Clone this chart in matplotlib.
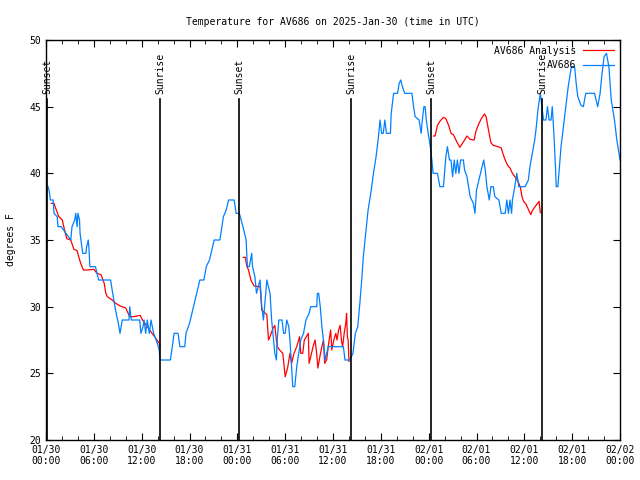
import numpy as np
import matplotlib.pyplot as plt
import matplotlib.dates as mdates
from datetime import datetime, timedelta

plt.rcParams['font.family'] = ['DejaVu Sans Mono']

start = datetime(2025, 1, 30)

# observed temperature (AV686): hours since 01/30 00:00 UTC, degrees F
obs_h = [0.25, 0.4, 0.55, 0.9, 1.0, 1.4, 1.5, 1.9, 3.1, 3.26, 3.6, 3.73, 3.9, 4.0, 4.2,
         4.27, 4.6, 5.0, 5.1, 5.3, 5.4, 5.5, 6.2, 6.4, 6.6, 8.1, 8.3, 8.5, 8.8, 9.07,
         9.28, 9.57, 10.4, 10.5, 10.7, 11.75, 11.9, 12.17, 12.3, 12.5, 12.7, 12.96, 13.17,
         13.5, 13.96, 14.2, 14.3,
         15.6, 15.9, 16.06, 16.56, 16.8, 17.4, 17.56, 18.0, 18.3, 18.6, 18.9, 19.3, 19.8,
         20.1, 20.5, 20.7, 21.1, 21.8, 22.0, 22.25, 22.6, 22.9, 23.6, 23.84, 24.25, 24.7,
         25.1, 25.26, 25.5, 25.8, 25.9, 26.2, 26.4, 26.85, 27.06, 27.27, 27.7, 28.1, 28.3,
         28.7, 28.9, 29.0, 29.2, 29.6, 29.8, 30.0, 30.2, 30.45, 30.6, 30.8, 30.95, 31.2,
         31.45, 31.7, 31.95, 32.3, 32.6, 33.0, 33.2, 33.96, 34.04, 34.2, 34.4, 34.6, 34.8,
         35.0, 35.2, 35.4, 37.3, 37.5, 38.1,
         38.5, 38.8, 39.1, 39.4, 39.6, 39.8, 40.1, 40.4, 40.8, 41.07, 41.4, 41.7, 41.9,
         42.1, 42.3, 42.5, 42.7, 43.2, 43.3, 43.6, 44.1, 44.3, 44.5, 44.7, 45.0, 45.9,
         46.1, 46.3, 46.8, 47.05, 47.2, 47.4, 47.55, 47.7, 48.0, 48.2, 48.4, 48.55, 49.1,
         49.4, 49.85,
         50.15, 50.35, 50.6, 50.8, 51.0, 51.2, 51.4, 51.6, 51.8, 52.0, 52.35, 52.5, 52.8,
         53.0, 53.2, 53.4, 53.6, 53.8, 54.0, 54.2, 54.6, 54.9, 55.1, 55.3, 55.6, 55.8,
         56.1, 56.3, 56.8, 57.1, 57.6, 57.8, 58.0, 58.2, 58.4, 58.5, 58.8, 59.05, 59.3,
         60.1, 60.5, 60.7, 61.0, 61.3, 61.5, 61.7, 62.0,
         62.2, 62.4, 62.7, 62.9, 63.1, 63.35, 63.5, 63.7, 63.9, 64.0, 64.2, 64.4, 64.6,
         64.9, 65.2, 65.5, 65.9, 66.3, 66.5, 66.7, 67.1, 67.4, 67.7, 68.8, 69.0, 69.2,
         69.5, 69.7, 70.0, 70.3, 70.6, 70.9, 71.3, 71.6, 72.0]
obs_t = [39.0, 38.7, 38.0, 38.0, 37.0, 36.75, 36.0, 36.0, 35.0, 36.0, 36.5, 37.0, 36.0,
         37.0, 36.5, 35.5, 34.0, 34.0, 34.5, 35.0, 34.25, 33.0, 33.0, 32.5, 32.0, 32.0,
         31.25, 30.5, 29.5, 28.75, 28.0, 29.0, 29.0, 30.0, 29.0, 29.0, 28.0, 28.5, 29.0,
         28.0, 29.0, 28.0, 29.0, 28.0, 27.25, 26.75, 26.0,
         26.0, 27.25, 28.0, 28.0, 27.0, 27.0, 28.0, 28.75, 29.5, 30.25, 31.0, 32.0, 32.0,
         33.0, 33.5, 34.0, 35.0, 35.0, 35.75, 36.75, 37.25, 38.0, 38.0, 37.0, 37.0, 36.0,
         35.0, 33.0, 33.0, 34.0, 33.0, 32.25, 31.0, 32.0, 30.0, 29.0, 32.0, 31.0, 29.0,
         26.5, 26.0, 27.5, 29.0, 29.0, 28.0, 28.0, 29.0, 28.5, 27.5, 25.5, 24.0, 24.0,
         25.5, 26.5, 27.5, 28.0, 29.0, 29.5, 30.0, 30.0, 31.0, 31.0, 30.0, 28.5, 27.5,
         26.0, 26.5, 27.0, 27.0, 26.0, 26.0,
         26.5, 28.0, 28.5, 30.5, 32.0, 33.75, 35.5, 37.25, 38.75, 40.0, 41.25, 42.75, 44.0,
         43.0, 43.0, 44.0, 43.0, 43.0, 44.5, 46.0, 46.0, 46.75, 47.0, 46.5, 46.0, 46.0,
         45.0, 44.25, 44.0, 43.0, 44.0, 45.0, 45.0, 44.0, 42.75, 42.0, 41.0, 40.0, 40.0,
         39.0, 39.0,
         41.25, 42.0, 41.0, 41.0, 39.75, 41.0, 40.0, 41.0, 40.0, 41.0, 41.0, 40.25, 39.75,
         39.0, 38.25, 38.0, 37.75, 37.0, 38.75, 39.25, 40.25, 41.0, 40.25, 39.0, 38.0, 39.0,
         39.0, 38.25, 38.0, 37.0, 37.0, 38.0, 37.0, 38.0, 37.0, 38.0, 39.0, 40.0, 39.0,
         39.0, 39.5, 40.5, 41.5, 42.5, 43.5, 44.75, 46.0,
         45.0, 44.0, 44.0, 45.0, 44.0, 44.0, 45.0, 43.0, 40.5, 39.0, 39.0, 40.5, 42.0,
         43.5, 45.0, 46.5, 48.0, 48.0, 46.75, 45.75, 45.1, 45.0, 46.0, 46.0, 45.5, 45.0,
         46.0, 47.25, 48.75, 49.0, 48.0, 45.5, 44.0, 42.5, 41.0]

# analysis temperature (AV686 Analysis), gaps as nan
ana_h = [0.67, 1.0, 1.2, 1.6, 2.05, 2.26, 2.6, 3.1, 3.5, 3.9, 4.1, 4.35, 4.7, 5.2, 6.0,
         6.4, 6.9, 7.3, 7.5, 7.7, 8.3, 8.75, 9.3, 10.0, 10.5, 11.0, 11.8, 12.1, 12.7,
         13.3, 13.8, 14.2, 14.3,
         np.nan,
         24.75, 25.0, 25.2, 25.4, 25.7, 26.1, 26.85, 26.95, 27.06, 27.5, 27.7, 27.9,
         28.1, 28.3, 28.5, 28.7, 28.8, 29.0, 29.3, 29.7, 30.0, 30.3, 30.6, 30.8, 31.1,
         31.45, 31.8, 31.95, 32.2, 32.4, 32.65, 32.9, 33.0, 33.3, 33.5, 33.75, 33.95,
         34.1, 34.35, 34.6, 34.8, 34.95, 35.2, 35.45, 35.7, 35.85, 36.1, 36.35, 36.5,
         36.7, 36.9, 37.05, 37.2, 37.4, 37.6, 37.7, 37.8, 37.9, 38.0,
         np.nan,
         48.6, 48.8, 49.1, 49.4, 49.85, 50.15, 50.5, 50.8, 51.1, 51.5, 51.9, 52.4, 52.8,
         53.2, 53.7, 53.9, 54.2, 54.6, 55.0, 55.2, 55.5, 55.8, 56.1, 56.7, 57.1, 57.35,
         57.6, 57.9, 58.2, 58.5, 58.8, 59.2, 59.5, 59.7, 59.9, 60.2, 60.5, 60.8, 61.0,
         61.4, 61.85, 62.0]
ana_t = [37.75, 37.75, 37.4, 36.75, 36.5, 35.9, 35.1, 35.0, 34.3, 34.2, 33.75, 33.25,
         32.75, 32.75, 32.8, 32.5, 32.4, 31.75, 31.0, 30.75, 30.5, 30.25, 30.05, 29.9,
         29.25, 29.25, 29.35, 29.0, 28.5, 28.0, 27.6, 27.25, 27.0,
         np.nan,
         33.7, 33.7, 33.0, 32.75, 32.0, 31.55, 31.5, 30.75, 29.75, 29.5, 29.4, 27.5,
         27.75, 28.1, 28.4, 28.6, 28.0, 27.0, 26.75, 26.5, 24.75, 25.4, 26.5, 25.75, 26.5,
         27.0, 27.75, 26.5, 26.5, 27.5, 27.75, 28.0, 25.75, 26.5, 27.0, 27.5, 26.5,
         25.4, 26.25, 27.0, 27.5, 25.75, 26.0, 27.25, 28.25, 26.75, 27.5, 28.0, 27.5,
         28.25, 28.6, 27.5, 27.0, 28.0, 28.75, 29.5, 27.75, 27.5, 25.9,
         np.nan,
         42.8, 42.8, 43.6, 43.9, 44.2, 44.1, 43.6, 43.0, 42.9, 42.4, 41.95, 42.4, 42.8,
         42.55, 42.5, 43.1, 43.6, 44.1, 44.45, 44.25, 43.25, 42.3, 42.1, 42.0, 41.9, 41.4,
         41.0, 40.6, 40.4, 40.0, 39.75, 39.4, 38.95, 38.25, 37.9, 37.7, 37.3, 36.9, 37.2,
         37.55, 37.9, 37.05]

sun_h = [0.12, 14.3, 24.2, 38.3, 48.3, 62.2]
sun_lbl = ['Sunset', 'Sunrise', 'Sunset', 'Sunrise', 'Sunset', 'Sunrise']


def hnum(h):
    # hours since start -> matplotlib date number
    if np.isnan(h):
        return np.nan
    return mdates.date2num(start + timedelta(hours=h))


fig = plt.figure(figsize=(6.4, 4.8), dpi=100)
ax = fig.add_axes([0.0719, 0.0833, 0.8969, 0.8334])

ana_x = [hnum(h) for h in ana_h]
obs_x = [hnum(h) for h in obs_h]

ax.plot(ana_x, ana_t, color='#ff0000', lw=0.9, label='AV686 Analysis')
ax.plot(obs_x, obs_t, color='#0080ff', lw=0.9, label='AV686')

for h, lbl in zip(sun_h, sun_lbl):
    xs = hnum(h)
    ax.plot([xs, xs], [20, 45.6], color='black', lw=1.2)
    ax.text(xs, 45.95, lbl, rotation=90, ha='center', va='bottom', fontsize=7)

ax.set_xlim(hnum(0), hnum(72))
ax.set_ylim(20, 50)
ax.xaxis.set_major_locator(mdates.HourLocator(byhour=[0, 6, 12, 18]))
ax.xaxis.set_minor_locator(mdates.HourLocator(interval=2))
ax.xaxis.set_major_formatter(mdates.DateFormatter('%m/%d\n%H:%M'))
ax.set_yticks(range(20, 51, 5))
ax.tick_params(which='both', direction='in', top=True, right=True, labelsize=7)
ax.tick_params(which='major', length=5)
ax.tick_params(which='minor', length=3)
for s in ax.spines.values():
    s.set_linewidth(1.0)

ax.set_ylabel('degrees F', fontsize=7)
ax.yaxis.set_label_coords(-0.052, 0.5)
ax.set_title('Temperature for AV686 on 2025-Jan-30 (time in UTC)', fontsize=7, pad=11)

leg = ax.legend(loc='upper right', frameon=False, fontsize=7, markerfirst=False,
                handlelength=3.2, borderaxespad=0.2, labelspacing=0.45, handletextpad=0.7)

fig.savefig('out.png', dpi=100)
